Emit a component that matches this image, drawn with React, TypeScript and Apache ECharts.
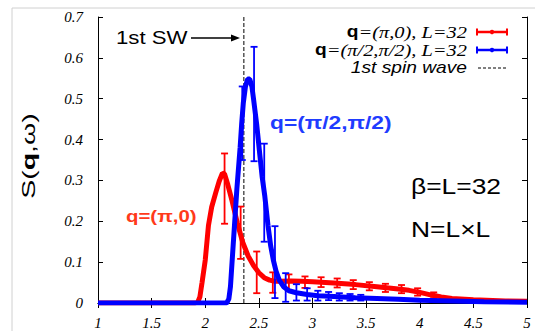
import React, { useEffect, useRef } from "react";
import * as echarts from "echarts";

// ---- data ----
const xTicks = [1, 1.5, 2, 2.5, 3, 3.5, 4, 4.5, 5];
const yTicks = [0, 0.1, 0.2, 0.3, 0.4, 0.5, 0.6, 0.7];

const redX = [1.0, 1.5, 1.9, 1.93, 1.95, 1.97, 2.0, 2.03, 2.06, 2.1, 2.13, 2.16, 2.18, 2.21, 2.25, 2.3, 2.35, 2.4, 2.45, 2.5, 2.55, 2.6, 2.65, 2.7, 2.8, 2.9, 3.0, 3.2, 3.4, 3.6, 3.8, 3.9, 4.0, 4.1, 4.2, 4.3, 4.5, 4.8, 5.0];
const redY = [0, 0, 0, 0.002, 0.015, 0.05, 0.105, 0.19, 0.235, 0.272, 0.298, 0.318, 0.316, 0.29, 0.25, 0.195, 0.148, 0.115, 0.092, 0.074, 0.062, 0.056, 0.053, 0.053, 0.054, 0.053, 0.052, 0.049, 0.045, 0.04, 0.034, 0.031, 0.026, 0.02, 0.015, 0.011, 0.008, 0.005, 0.004];

const redErrX = [2.18, 2.33, 2.48, 2.63, 2.78, 2.93, 3.08, 3.23, 3.38, 3.53, 3.68, 3.83, 3.98, 4.13];
const redErrY = [0.28, 0.172, 0.075, 0.05, 0.05, 0.051, 0.051, 0.049, 0.045, 0.041, 0.037, 0.034, 0.027, 0.019];
const redErrE = [0.086, 0.064, 0.051, 0.025, 0.02, 0.014, 0.012, 0.011, 0.011, 0.01, 0.01, 0.01, 0.009, 0.007];

const blueX = [1.0, 2.0, 2.2, 2.22, 2.235, 2.25, 2.265, 2.28, 2.295, 2.31, 2.325, 2.34, 2.355, 2.375, 2.395, 2.415, 2.435, 2.45, 2.48, 2.51, 2.53, 2.555, 2.585, 2.61, 2.635, 2.66, 2.69, 2.73, 2.78, 2.85, 2.95, 3.05, 3.2, 3.4, 3.6, 3.8, 4.0, 4.3, 4.6, 5.0];
const blueY = [0, 0, 0, 0.01, 0.04, 0.1, 0.16, 0.22, 0.28, 0.33, 0.38, 0.44, 0.49, 0.53, 0.548, 0.548, 0.53, 0.5, 0.436, 0.36, 0.31, 0.262, 0.19, 0.14, 0.105, 0.078, 0.056, 0.04, 0.03, 0.025, 0.021, 0.018, 0.016, 0.013, 0.011, 0.009, 0.007, 0.005, 0.003, 0.002];

const blueErrX = [2.345, 2.455, 2.55, 2.65, 2.75, 2.85, 2.95, 3.05, 3.15, 3.25, 3.35, 3.45];
const blueErrY = [0.44, 0.487, 0.27, 0.1, 0.038, 0.026, 0.021, 0.018, 0.017, 0.015, 0.014, 0.013];
const blueErrE = [0.09, 0.14, 0.12, 0.088, 0.035, 0.02, 0.015, 0.012, 0.01, 0.009, 0.008, 0.007];

const spinWaveX = 2.36;
const yRange = [yTicks[0], yTicks[yTicks.length - 1]];

const RED = "#ff0000";
const BLUE = "#0000ff";
const SX = 1.2; // horizontal stretch of the reference's lettering

function errRender(color: string) {
  return (params: any, api: any) => {
    const x = api.value(0);
    const y = api.value(1);
    const e = api.value(2);
    const top = api.coord([x, y + e]);
    const bot = api.coord([x, y - e]);
    const cw = 3.5;
    const style = { stroke: color, lineWidth: 1.8 };
    return {
      type: "group",
      children: [
        { type: "line", shape: { x1: top[0], y1: top[1], x2: bot[0], y2: bot[1] }, style },
        { type: "line", shape: { x1: top[0] - cw, y1: top[1], x2: top[0] + cw, y2: top[1] }, style },
        { type: "line", shape: { x1: bot[0] - cw, y1: bot[1], x2: bot[0] + cw, y2: bot[1] }, style },
      ],
    };
  };
}

export default function App() {
  const ref = useRef<HTMLDivElement>(null);
  useEffect(() => {
    if (!ref.current) return;
    const chart = echarts.init(ref.current, null, { renderer: "svg" });
    const tickLabel = {
      fontFamily: "Liberation Serif",
      fontStyle: "italic" as const,
      fontSize: 15,
      color: "#000",
    };
    const commonAxis = {
      axisLine: { show: true, lineStyle: { color: "#000", width: 1 } },
      axisTick: { show: true, inside: true, length: 5, lineStyle: { color: "#000" } },
      splitLine: { show: false },
    };
    const legendSample = (y: number, color: string) => [
      { type: "line", shape: { x1: 477, y1: y, x2: 507, y2: y }, style: { stroke: color, lineWidth: 2.5 } },
      { type: "line", shape: { x1: 477, y1: y - 3.5, x2: 477, y2: y + 3.5 }, style: { stroke: color, lineWidth: 2 } },
      { type: "line", shape: { x1: 507, y1: y - 3.5, x2: 507, y2: y + 3.5 }, style: { stroke: color, lineWidth: 2 } },
      { type: "circle", shape: { cx: 492, cy: y, r: 2.2 }, style: { fill: color } },
    ];
    const legRich = {
      b: { fontFamily: "Liberation Sans", fontWeight: "bold", fontSize: 16, fill: "#000" },
      i: { fontFamily: "Liberation Serif", fontStyle: "italic", fontSize: 17, fill: "#000" },
    };
    chart.setOption({
      animation: false,
      grid: { left: 98, right: 8, top: 17, bottom: 28, containLabel: false },
      xAxis: [
        {
          type: "value",
          min: xTicks[0],
          max: xTicks[xTicks.length - 1],
          interval: 0.5,
          position: "bottom",
          ...commonAxis,
          axisLabel: { ...tickLabel, margin: 12, formatter: (v: number) => String(v) },
        },
        {
          type: "value",
          min: xTicks[0],
          max: xTicks[xTicks.length - 1],
          interval: 0.5,
          position: "top",
          ...commonAxis,
          axisLabel: { show: false },
        },
      ],
      yAxis: [
        {
          type: "value",
          min: yRange[0],
          max: yRange[1],
          interval: 0.1,
          position: "left",
          ...commonAxis,
          axisLabel: { ...tickLabel, margin: 15, formatter: (v: number) => String(Math.round(v * 10) / 10) },
        },
        {
          type: "value",
          min: yRange[0],
          max: yRange[1],
          interval: 0.1,
          position: "right",
          ...commonAxis,
          axisLabel: { show: false },
        },
      ],
      series: [
        {
          type: "line",
          data: [
            [spinWaveX, yRange[0]],
            [spinWaveX, yRange[1]],
          ],
          showSymbol: false,
          lineStyle: { color: "#000", width: 1, type: [4, 2] },
          z: 1,
        },
        {
          type: "line",
          data: redX.map((x, i) => [x, redY[i]]),
          showSymbol: false,
          lineStyle: { color: RED, width: 5 },
          z: 2,
        },
        {
          type: "custom",
          data: redErrX.map((x, i) => [x, redErrY[i], redErrE[i]]),
          encode: { x: 0, y: 1 },
          renderItem: errRender(RED),
          z: 3,
        },
        {
          type: "line",
          data: blueX.map((x, i) => [x, blueY[i]]),
          showSymbol: false,
          lineStyle: { color: BLUE, width: 5 },
          z: 4,
        },
        {
          type: "custom",
          data: blueErrX.map((x, i) => [x, blueErrY[i], blueErrE[i]]),
          encode: { x: 0, y: 1 },
          renderItem: errRender(BLUE),
          z: 5,
        },
      ],
      graphic: [
        {
          type: "rect",
          shape: { x: 12, y: 8, width: 700, height: 500 },
          style: { fill: "none", stroke: "#d0d0d0", lineWidth: 1 },
          silent: true,
        },
        {
          type: "text",
          x: 28,
          y: 156,
          rotation: Math.PI / 2,
          scaleX: 1.5,
          style: {
            text: "{n|S(}{b|q}{n|,ω)}",
            align: "center",
            verticalAlign: "middle",
            rich: {
              n: { fontFamily: "Liberation Sans", fontSize: 19, fill: "#000" },
              b: { fontFamily: "Liberation Sans", fontSize: 19, fontWeight: "bold", fill: "#000" },
            },
          },
        },
        {
          type: "text",
          x: 116,
          y: 38,
          scaleX: SX,
          style: { text: "1st SW", fontFamily: "Liberation Sans", fontSize: 18.5, fill: "#000", verticalAlign: "middle" },
        },
        { type: "line", shape: { x1: 191, y1: 38, x2: 236, y2: 38 }, style: { stroke: "#000", lineWidth: 1.3 } },
        { type: "polygon", shape: { points: [[240, 38], [231, 34.5], [231, 41.5]] }, style: { fill: "#000" } },
        {
          type: "text",
          x: 270,
          y: 122,
          scaleX: SX,
          style: {
            text: "q=(π/2,π/2)",
            fontFamily: "Liberation Sans",
            fontWeight: "bold",
            fontSize: 19,
            fill: "#1f3cff",
            verticalAlign: "middle",
          },
        },
        {
          type: "text",
          x: 126,
          y: 216,
          scaleX: SX,
          style: {
            text: "q=(π,0)",
            fontFamily: "Liberation Sans",
            fontWeight: "bold",
            fontSize: 17,
            fill: "#ff3a1a",
            verticalAlign: "middle",
          },
        },
        {
          type: "text",
          x: 411,
          y: 186,
          scaleX: SX,
          style: { text: "β=L=32", fontFamily: "Liberation Sans", fontSize: 22, fill: "#000", verticalAlign: "middle" },
        },
        {
          type: "text",
          x: 411,
          y: 229,
          scaleX: SX,
          style: { text: "N=L×L", fontFamily: "Liberation Sans", fontSize: 22, fill: "#000", verticalAlign: "middle" },
        },
        {
          type: "text",
          x: 467,
          y: 32,
          scaleX: SX,
          style: { text: "{b|q}{i|=(π,0), L=32}", align: "right", verticalAlign: "middle", rich: legRich },
        },
        {
          type: "text",
          x: 467,
          y: 50,
          scaleX: SX,
          style: { text: "{b|q}{i|=(π/2,π/2), L=32}", align: "right", verticalAlign: "middle", rich: legRich },
        },
        {
          type: "text",
          x: 467,
          y: 68,
          scaleX: SX,
          style: {
            text: "{s|1st spin wave}",
            align: "right",
            verticalAlign: "middle",
            rich: {
              s: { fontFamily: "Liberation Sans", fontStyle: "italic", fontSize: 16, fill: "#000" },
            },
          },
        },
        ...legendSample(32, RED),
        ...legendSample(50, BLUE),
        {
          type: "line",
          shape: { x1: 478, y1: 68, x2: 506, y2: 68 },
          style: { stroke: "#000", lineWidth: 1, lineDash: [3, 2] },
        },
      ],
    });
    return () => chart.dispose();
  }, []);
  return (
    <div
      ref={ref}
      style={{ position: "fixed", left: 0, top: 0, width: 535, height: 331, background: "#fff" }}
    />
  );
}
